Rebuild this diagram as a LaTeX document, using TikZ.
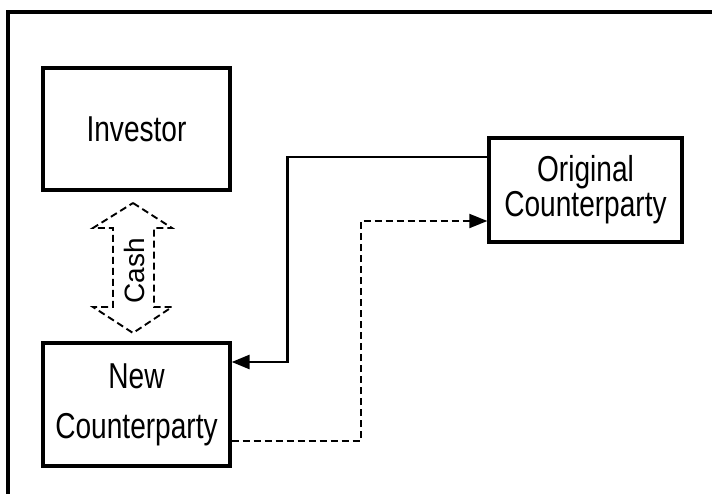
\documentclass[tikz,border=0pt]{standalone}
\usepackage{fontspec}
\setmainfont{Liberation Sans}
\newfontfamily\narrowfont[FakeStretch=0.78]{Liberation Sans}
\usetikzlibrary{arrows.meta}
\tikzset{
  box/.style={draw=black, line width=3.3pt, rectangle, inner sep=0pt, align=center, fill=white},
  solidconn/.style={draw=black, line width=2.8pt, -{Triangle[length=18pt,width=14pt]}},
  dashconn/.style={draw=black, line width=1.9pt, dash pattern=on 7pt off 4pt, -{Triangle[length=18pt,width=14pt]}},
  cashshape/.style={draw=black, line width=1.9pt, dash pattern=on 7pt off 4pt, line join=miter},
  frame/.style={draw=black, line width=4pt}
}
\begin{document}
\begin{tikzpicture}[x=1pt, y=-1pt]
\useasboundingbox (0,0) rectangle (712,493);
\fill[white] (0,0) rectangle (712,493);
\draw[frame] (8,500) -- (8,12) -- (720,12);

\node[box, minimum width=187pt, minimum height=122pt, font=\narrowfont\fontsize{36}{40}\selectfont] (inv) at (136.5,129) {Investor};
\node[box, minimum width=193pt, minimum height=104pt, font=\narrowfont\fontsize{36}{35}\selectfont] (orig) at (585.5,190) {Original\\Counterparty};
\node[box, minimum width=187pt, minimum height=123pt, font=\narrowfont\fontsize{36}{50}\selectfont] (new) at (136.5,404.5) {New\\Counterparty};

\draw[cashshape] (133,203) -- (172,228) -- (154,228) -- (154,307) -- (172,307) -- (133,333) -- (93,307) -- (113,307) -- (113,228) -- (93,228) -- cycle;
\node[rotate=90, inner sep=0pt, font=\fontsize{28}{30}\selectfont] (cash) at (134,271) {Cash};

\draw[solidconn] ([yshift=33pt]orig.west) -- ++(-200,0) |- ([yshift=42.5pt]new.east);
\draw[dashconn] ([yshift=-36.5pt]new.east) -- ++(129,0) |- ([yshift=-31pt]orig.west);
\end{tikzpicture}
\end{document}
